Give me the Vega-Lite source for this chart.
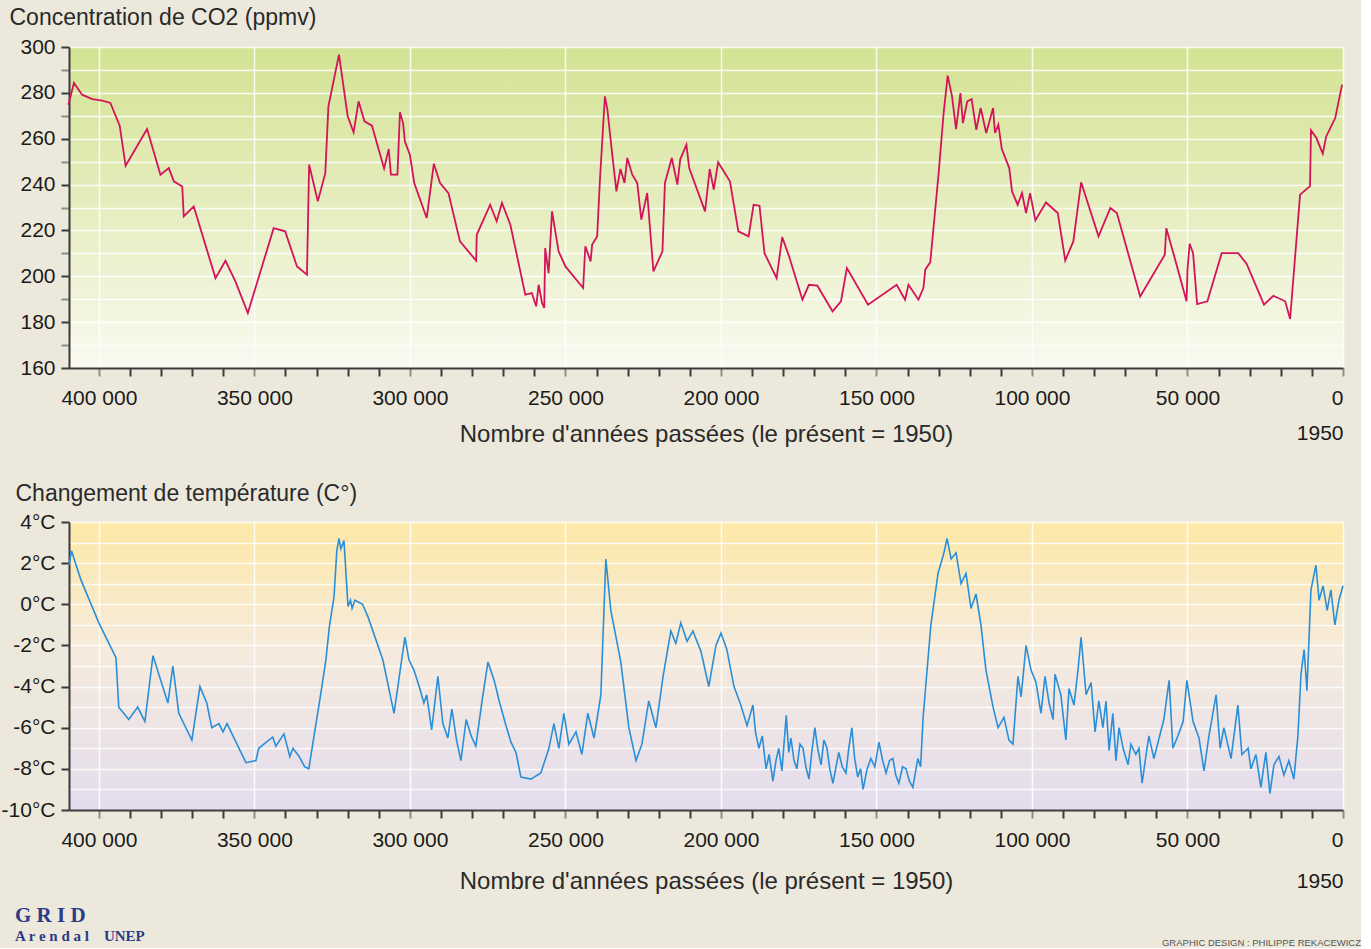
{
  "$schema": "https://vega.github.io/schema/vega-lite/v6.json",
  "background": "#ECE9DC",
  "padding": {"left": 1, "top": 6, "right": 0, "bottom": 0},
  "bounds": "flush",
  "spacing": 154,
  "config": {"font": "Liberation Sans", "view": {"stroke": null}},
  "datasets": {
    "co2": [
      {"years": 409800, "ppmv": 274.8}, {"years": 408000, "ppmv": 284.3}, {"years": 405400, "ppmv": 279.2}, {"years": 402100, "ppmv": 277.3}, {"years": 398900, "ppmv": 276.6}, {"years": 396300, "ppmv": 275.6}, {"years": 393300, "ppmv": 265.7}, {"years": 391400, "ppmv": 248.2}, {"years": 384500, "ppmv": 264.2}, {"years": 380200, "ppmv": 244.3}, {"years": 377500, "ppmv": 247.2}, {"years": 375900, "ppmv": 241.4}, {"years": 373200, "ppmv": 239.2}, {"years": 372700, "ppmv": 226.1}, {"years": 369500, "ppmv": 230.5}, {"years": 362500, "ppmv": 199.2}, {"years": 359300, "ppmv": 206.8}, {"years": 356100, "ppmv": 197.8}, {"years": 352100, "ppmv": 184.0}, {"years": 343800, "ppmv": 221.0}, {"years": 340100, "ppmv": 219.6}, {"years": 336300, "ppmv": 204.3}, {"years": 333100, "ppmv": 200.7}, {"years": 332400, "ppmv": 248.7}, {"years": 329600, "ppmv": 232.7}, {"years": 327200, "ppmv": 245.0}, {"years": 326200, "ppmv": 274.1}, {"years": 322800, "ppmv": 296.7}, {"years": 320000, "ppmv": 269.8}, {"years": 318100, "ppmv": 262.8}, {"years": 316500, "ppmv": 276.3}, {"years": 314600, "ppmv": 267.6}, {"years": 312200, "ppmv": 265.7}, {"years": 308300, "ppmv": 247.0}, {"years": 306800, "ppmv": 255.5}, {"years": 306100, "ppmv": 244.3}, {"years": 304000, "ppmv": 244.3}, {"years": 303200, "ppmv": 271.5}, {"years": 302200, "ppmv": 266.8}, {"years": 301600, "ppmv": 258.8}, {"years": 300000, "ppmv": 253.0}, {"years": 298600, "ppmv": 240.7}, {"years": 294600, "ppmv": 225.4}, {"years": 292300, "ppmv": 249.1}, {"years": 290300, "ppmv": 240.7}, {"years": 287600, "ppmv": 236.3}, {"years": 283900, "ppmv": 215.2}, {"years": 278700, "ppmv": 206.8}, {"years": 278500, "ppmv": 218.1}, {"years": 274200, "ppmv": 231.2}, {"years": 272100, "ppmv": 224.0}, {"years": 270400, "ppmv": 232.0}, {"years": 267700, "ppmv": 222.5}, {"years": 262900, "ppmv": 192.0}, {"years": 260800, "ppmv": 192.7}, {"years": 259400, "ppmv": 186.9}, {"years": 258600, "ppmv": 196.3}, {"years": 257500, "ppmv": 188.3}, {"years": 256800, "ppmv": 186.2}, {"years": 256500, "ppmv": 212.3}, {"years": 255400, "ppmv": 201.4}, {"years": 254300, "ppmv": 228.3}, {"years": 252200, "ppmv": 210.9}, {"years": 250000, "ppmv": 204.3}, {"years": 244300, "ppmv": 194.9}, {"years": 243600, "ppmv": 213.1}, {"years": 241900, "ppmv": 206.5}, {"years": 241400, "ppmv": 213.8}, {"years": 239800, "ppmv": 217.4}, {"years": 238900, "ppmv": 242.1}, {"years": 237300, "ppmv": 278.5}, {"years": 236500, "ppmv": 272.7}, {"years": 235000, "ppmv": 253.8}, {"years": 233600, "ppmv": 237.0}, {"years": 232300, "ppmv": 246.8}, {"years": 231000, "ppmv": 240.7}, {"years": 230100, "ppmv": 251.6}, {"years": 228500, "ppmv": 244.3}, {"years": 226900, "ppmv": 240.7}, {"years": 225600, "ppmv": 224.7}, {"years": 223700, "ppmv": 236.3}, {"years": 221700, "ppmv": 202.1}, {"years": 218800, "ppmv": 210.9}, {"years": 218000, "ppmv": 240.7}, {"years": 215800, "ppmv": 251.6}, {"years": 214000, "ppmv": 240.0}, {"years": 213100, "ppmv": 250.9}, {"years": 211100, "ppmv": 257.4}, {"years": 210200, "ppmv": 247.2}, {"years": 205100, "ppmv": 228.3}, {"years": 203600, "ppmv": 246.8}, {"years": 202300, "ppmv": 237.8}, {"years": 200900, "ppmv": 249.7}, {"years": 197100, "ppmv": 241.4}, {"years": 194400, "ppmv": 219.6}, {"years": 191100, "ppmv": 217.4}, {"years": 189500, "ppmv": 231.2}, {"years": 187600, "ppmv": 230.8}, {"years": 186000, "ppmv": 210.1}, {"years": 182100, "ppmv": 199.2}, {"years": 180300, "ppmv": 217.1}, {"years": 178100, "ppmv": 208.7}, {"years": 173800, "ppmv": 189.8}, {"years": 171700, "ppmv": 196.3}, {"years": 169000, "ppmv": 195.9}, {"years": 164100, "ppmv": 184.7}, {"years": 161400, "ppmv": 189.1}, {"years": 159500, "ppmv": 203.6}, {"years": 152700, "ppmv": 187.6}, {"years": 143500, "ppmv": 196.3}, {"years": 140800, "ppmv": 189.8}, {"years": 139700, "ppmv": 196.3}, {"years": 136500, "ppmv": 189.8}, {"years": 134900, "ppmv": 194.9}, {"years": 134300, "ppmv": 202.9}, {"years": 132700, "ppmv": 206.1}, {"years": 130000, "ppmv": 245.0}, {"years": 128400, "ppmv": 271.2}, {"years": 127100, "ppmv": 287.5}, {"years": 125700, "ppmv": 278.5}, {"years": 124400, "ppmv": 264.2}, {"years": 123000, "ppmv": 279.9}, {"years": 122200, "ppmv": 266.8}, {"years": 120800, "ppmv": 276.3}, {"years": 119400, "ppmv": 277.3}, {"years": 117900, "ppmv": 263.9}, {"years": 116500, "ppmv": 273.4}, {"years": 114700, "ppmv": 262.5}, {"years": 112500, "ppmv": 273.4}, {"years": 111900, "ppmv": 262.5}, {"years": 110800, "ppmv": 266.1}, {"years": 109700, "ppmv": 255.5}, {"years": 107300, "ppmv": 247.2}, {"years": 106400, "ppmv": 237.0}, {"years": 104600, "ppmv": 231.2}, {"years": 103200, "ppmv": 236.3}, {"years": 101900, "ppmv": 227.6}, {"years": 100600, "ppmv": 236.3}, {"years": 98900, "ppmv": 224.4}, {"years": 95500, "ppmv": 232.2}, {"years": 91700, "ppmv": 227.6}, {"years": 89300, "ppmv": 206.9}, {"years": 86700, "ppmv": 215.2}, {"years": 84200, "ppmv": 241.0}, {"years": 78600, "ppmv": 217.4}, {"years": 74800, "ppmv": 229.8}, {"years": 72700, "ppmv": 227.6}, {"years": 65200, "ppmv": 191.2}, {"years": 57300, "ppmv": 209.4}, {"years": 56800, "ppmv": 221.0}, {"years": 53800, "ppmv": 206.5}, {"years": 50300, "ppmv": 189.1}, {"years": 50000, "ppmv": 202.9}, {"years": 49300, "ppmv": 214.2}, {"years": 48200, "ppmv": 210.1}, {"years": 46900, "ppmv": 187.9}, {"years": 43600, "ppmv": 189.1}, {"years": 39000, "ppmv": 210.1}, {"years": 33700, "ppmv": 210.1}, {"years": 31000, "ppmv": 205.5}, {"years": 25400, "ppmv": 187.6}, {"years": 22400, "ppmv": 191.5}, {"years": 18600, "ppmv": 189.1}, {"years": 17000, "ppmv": 181.4}, {"years": 13800, "ppmv": 235.6}, {"years": 10600, "ppmv": 239.3}, {"years": 10300, "ppmv": 263.7}, {"years": 8600, "ppmv": 260.4}, {"years": 6500, "ppmv": 253.5}, {"years": 5400, "ppmv": 261.0}, {"years": 2500, "ppmv": 269.0}, {"years": 300, "ppmv": 283.6}
    ],
    "temp": [
      {"years": 409600, "deg": 1.9}, {"years": 408800, "deg": 2.6}, {"years": 405800, "deg": 1.2}, {"years": 400000, "deg": -0.9}, {"years": 394500, "deg": -2.6}, {"years": 393600, "deg": -5.0}, {"years": 390400, "deg": -5.6}, {"years": 387500, "deg": -5.0}, {"years": 385200, "deg": -5.7}, {"years": 382600, "deg": -2.5}, {"years": 377800, "deg": -4.8}, {"years": 376200, "deg": -3.0}, {"years": 374300, "deg": -5.3}, {"years": 370100, "deg": -6.6}, {"years": 367500, "deg": -4.0}, {"years": 365300, "deg": -4.8}, {"years": 363700, "deg": -6.0}, {"years": 361400, "deg": -5.8}, {"years": 360100, "deg": -6.2}, {"years": 358800, "deg": -5.8}, {"years": 352700, "deg": -7.7}, {"years": 349500, "deg": -7.6}, {"years": 348600, "deg": -7.0}, {"years": 344100, "deg": -6.45}, {"years": 343100, "deg": -6.9}, {"years": 340500, "deg": -6.3}, {"years": 338600, "deg": -7.4}, {"years": 337600, "deg": -7.0}, {"years": 335600, "deg": -7.4}, {"years": 333800, "deg": -7.9}, {"years": 332500, "deg": -8.0}, {"years": 328600, "deg": -4.3}, {"years": 327000, "deg": -2.7}, {"years": 325900, "deg": -1.1}, {"years": 324400, "deg": 0.35}, {"years": 323500, "deg": 2.6}, {"years": 322800, "deg": 3.2}, {"years": 322200, "deg": 2.7}, {"years": 321200, "deg": 3.1}, {"years": 319900, "deg": -0.1}, {"years": 319100, "deg": 0.2}, {"years": 318600, "deg": -0.2}, {"years": 317700, "deg": 0.2}, {"years": 315200, "deg": 0.0}, {"years": 313500, "deg": -0.6}, {"years": 308700, "deg": -2.7}, {"years": 305100, "deg": -5.3}, {"years": 301600, "deg": -1.6}, {"years": 300300, "deg": -2.7}, {"years": 298700, "deg": -3.2}, {"years": 297000, "deg": -4.0}, {"years": 295500, "deg": -4.8}, {"years": 294600, "deg": -4.4}, {"years": 293000, "deg": -6.1}, {"years": 291000, "deg": -3.5}, {"years": 289400, "deg": -5.8}, {"years": 287800, "deg": -6.5}, {"years": 286500, "deg": -5.1}, {"years": 285000, "deg": -6.6}, {"years": 283600, "deg": -7.6}, {"years": 281900, "deg": -5.6}, {"years": 280300, "deg": -6.4}, {"years": 278800, "deg": -6.9}, {"years": 276800, "deg": -4.7}, {"years": 274900, "deg": -2.8}, {"years": 272900, "deg": -3.7}, {"years": 271300, "deg": -4.7}, {"years": 269100, "deg": -5.9}, {"years": 267500, "deg": -6.7}, {"years": 265900, "deg": -7.2}, {"years": 264300, "deg": -8.4}, {"years": 261100, "deg": -8.5}, {"years": 257900, "deg": -8.2}, {"years": 255300, "deg": -7.0}, {"years": 253700, "deg": -5.8}, {"years": 252100, "deg": -7.0}, {"years": 250500, "deg": -5.3}, {"years": 248900, "deg": -6.8}, {"years": 246600, "deg": -6.2}, {"years": 244700, "deg": -7.3}, {"years": 242800, "deg": -5.3}, {"years": 240800, "deg": -6.5}, {"years": 238600, "deg": -4.4}, {"years": 237000, "deg": 2.2}, {"years": 235400, "deg": -0.3}, {"years": 232200, "deg": -2.8}, {"years": 229600, "deg": -6.0}, {"years": 227300, "deg": -7.6}, {"years": 225400, "deg": -6.8}, {"years": 223200, "deg": -4.7}, {"years": 220900, "deg": -6.0}, {"years": 218600, "deg": -3.5}, {"years": 216100, "deg": -1.3}, {"years": 214500, "deg": -1.9}, {"years": 212900, "deg": -0.9}, {"years": 210900, "deg": -1.8}, {"years": 209000, "deg": -1.3}, {"years": 206400, "deg": -2.3}, {"years": 203900, "deg": -4.0}, {"years": 201600, "deg": -2.0}, {"years": 200000, "deg": -1.4}, {"years": 198100, "deg": -2.2}, {"years": 195800, "deg": -4.0}, {"years": 193600, "deg": -4.9}, {"years": 191600, "deg": -5.9}, {"years": 189700, "deg": -4.9}, {"years": 188900, "deg": -6.2}, {"years": 187800, "deg": -7.0}, {"years": 186700, "deg": -6.4}, {"years": 185500, "deg": -8.0}, {"years": 184500, "deg": -7.3}, {"years": 183300, "deg": -8.6}, {"years": 182300, "deg": -7.6}, {"years": 181400, "deg": -7.0}, {"years": 180400, "deg": -8.1}, {"years": 179000, "deg": -5.4}, {"years": 178200, "deg": -7.2}, {"years": 177500, "deg": -6.5}, {"years": 176500, "deg": -7.6}, {"years": 175600, "deg": -8.0}, {"years": 174600, "deg": -6.8}, {"years": 173600, "deg": -7.0}, {"years": 172700, "deg": -7.9}, {"years": 171700, "deg": -8.5}, {"years": 170800, "deg": -7.2}, {"years": 169800, "deg": -6.0}, {"years": 168800, "deg": -7.1}, {"years": 167800, "deg": -7.8}, {"years": 166900, "deg": -6.6}, {"years": 165900, "deg": -7.0}, {"years": 165000, "deg": -8.0}, {"years": 164000, "deg": -8.7}, {"years": 163000, "deg": -7.9}, {"years": 162100, "deg": -7.2}, {"years": 161000, "deg": -7.9}, {"years": 159800, "deg": -8.2}, {"years": 158900, "deg": -7.0}, {"years": 157900, "deg": -6.0}, {"years": 157000, "deg": -7.5}, {"years": 156000, "deg": -8.4}, {"years": 155100, "deg": -8.0}, {"years": 154300, "deg": -9.0}, {"years": 153000, "deg": -8.0}, {"years": 151800, "deg": -7.5}, {"years": 150500, "deg": -7.9}, {"years": 149200, "deg": -6.7}, {"years": 148000, "deg": -7.6}, {"years": 146900, "deg": -8.2}, {"years": 145800, "deg": -7.6}, {"years": 144700, "deg": -7.5}, {"years": 143800, "deg": -8.3}, {"years": 142800, "deg": -8.7}, {"years": 141600, "deg": -7.9}, {"years": 140500, "deg": -8.0}, {"years": 139400, "deg": -8.6}, {"years": 138300, "deg": -8.9}, {"years": 137500, "deg": -8.2}, {"years": 136700, "deg": -7.5}, {"years": 135800, "deg": -7.9}, {"years": 135000, "deg": -5.5}, {"years": 132500, "deg": -1.0}, {"years": 130200, "deg": 1.5}, {"years": 128300, "deg": 2.5}, {"years": 127300, "deg": 3.2}, {"years": 126000, "deg": 2.2}, {"years": 124400, "deg": 2.5}, {"years": 122800, "deg": 1.0}, {"years": 121200, "deg": 1.5}, {"years": 119600, "deg": -0.2}, {"years": 118000, "deg": 0.5}, {"years": 116400, "deg": -1.0}, {"years": 114800, "deg": -3.2}, {"years": 112500, "deg": -5.0}, {"years": 110900, "deg": -6.0}, {"years": 109000, "deg": -5.5}, {"years": 107400, "deg": -6.6}, {"years": 106100, "deg": -6.8}, {"years": 104500, "deg": -3.5}, {"years": 103500, "deg": -4.5}, {"years": 101900, "deg": -2.0}, {"years": 100300, "deg": -3.2}, {"years": 98700, "deg": -3.8}, {"years": 97100, "deg": -5.3}, {"years": 95800, "deg": -3.5}, {"years": 94500, "deg": -4.8}, {"years": 93200, "deg": -5.6}, {"years": 92600, "deg": -3.4}, {"years": 90700, "deg": -4.4}, {"years": 89100, "deg": -6.6}, {"years": 88100, "deg": -4.1}, {"years": 86500, "deg": -4.9}, {"years": 85200, "deg": -3.2}, {"years": 84200, "deg": -1.6}, {"years": 82600, "deg": -4.4}, {"years": 81000, "deg": -3.8}, {"years": 79700, "deg": -6.2}, {"years": 78500, "deg": -4.7}, {"years": 77200, "deg": -6.0}, {"years": 76200, "deg": -4.7}, {"years": 75200, "deg": -7.1}, {"years": 74000, "deg": -5.3}, {"years": 73000, "deg": -7.6}, {"years": 72000, "deg": -6.0}, {"years": 70700, "deg": -7.0}, {"years": 69100, "deg": -7.8}, {"years": 68200, "deg": -6.8}, {"years": 66600, "deg": -7.3}, {"years": 65600, "deg": -7.0}, {"years": 64600, "deg": -8.7}, {"years": 63300, "deg": -7.3}, {"years": 62400, "deg": -6.4}, {"years": 60800, "deg": -7.5}, {"years": 57600, "deg": -5.6}, {"years": 55900, "deg": -3.7}, {"years": 54700, "deg": -7.0}, {"years": 53100, "deg": -6.4}, {"years": 51400, "deg": -5.7}, {"years": 50200, "deg": -3.7}, {"years": 48200, "deg": -5.7}, {"years": 46300, "deg": -6.5}, {"years": 44700, "deg": -8.1}, {"years": 43100, "deg": -6.4}, {"years": 40800, "deg": -4.4}, {"years": 39500, "deg": -7.0}, {"years": 38300, "deg": -6.0}, {"years": 36000, "deg": -7.5}, {"years": 33800, "deg": -4.9}, {"years": 32500, "deg": -7.3}, {"years": 30500, "deg": -7.0}, {"years": 29600, "deg": -8.0}, {"years": 28000, "deg": -7.3}, {"years": 26400, "deg": -8.9}, {"years": 24800, "deg": -7.2}, {"years": 23500, "deg": -9.2}, {"years": 22200, "deg": -7.8}, {"years": 20600, "deg": -7.4}, {"years": 19000, "deg": -8.3}, {"years": 17400, "deg": -7.6}, {"years": 15800, "deg": -8.5}, {"years": 14500, "deg": -6.4}, {"years": 13500, "deg": -3.4}, {"years": 12500, "deg": -2.2}, {"years": 11600, "deg": -4.2}, {"years": 10300, "deg": 0.7}, {"years": 8700, "deg": 1.9}, {"years": 7700, "deg": 0.2}, {"years": 6400, "deg": 0.9}, {"years": 5100, "deg": -0.3}, {"years": 3900, "deg": 0.7}, {"years": 2600, "deg": -1.0}, {"years": 1300, "deg": 0.2}, {"years": 0, "deg": 0.9}
    ]
  },
  "vconcat": [
    {
      "width": 1274,
      "height": 321,
      "view": {"stroke": null, "fill": {"gradient": "linear", "x1": 0, "y1": 0, "x2": 0, "y2": 1, "stops": [{"offset": 0, "color": "#D3E393"}, {"offset": 0.5, "color": "#E6EDBF"}, {"offset": 1, "color": "#FAFAF1"}]}},
      "title": {"text": "G R I D", "subtitle": "A r e n d a l\u00a0\u00a0\u00a0\u00a0UNEP", "orient": "bottom", "anchor": "start", "frame": "group", "offset": 459, "dx": -54, "font": "Liberation Serif", "fontWeight": "bold", "fontSize": 21, "color": "#2E3A86", "subtitleFont": "Liberation Serif", "subtitleFontWeight": "bold", "subtitleFontSize": 15, "subtitleColor": "#2E3A86", "subtitlePadding": 3},
      "data": {"name": "co2"},
      "mark": {"type": "line", "color": "#D4145A", "strokeWidth": 1.8},
      "encoding": {
        "x": {
          "field": "years", "type": "quantitative",
          "scale": {"domain": [409600, 0], "nice": false, "zero": false},
          "axis": {
            "values": [0, 10000, 20000, 30000, 40000, 50000, 60000, 70000, 80000, 90000, 100000, 110000, 120000, 130000, 140000, 150000, 160000, 170000, 180000, 190000, 200000, 210000, 220000, 230000, 240000, 250000, 260000, 270000, 280000, 290000, 300000, 310000, 320000, 330000, 340000, 350000, 360000, 370000, 380000, 390000, 400000],
            "labelExpr": "datum.value % 50000 != 0 ? '' : (datum.value == 0 ? ['0', '1950'] : floor(datum.value / 1000) + ' 000')",
            "labelAlign": {"condition": {"test": "datum.value == 0", "value": "right"}, "value": "center"},
            "labelFontSize": 21, "labelColor": "#1A1A1A", "labelPadding": 11, "labelLineHeight": 35,
            "labelOverlap": false, "labelBound": false, "labelFlush": false,
            "tickSize": 8, "tickWidth": 2,
            "tickColor": {"condition": {"test": "datum.value % 50000 == 0", "value": "#8E8E86"}, "value": "#3A3A3A"},
            "domainColor": "#3A3A3A", "domainWidth": 2,
            "grid": true, "gridColor": "#FFFFFF", "gridWidth": 1.5,
            "gridOpacity": {"condition": {"test": "datum.value % 50000 == 0", "value": 0.85}, "value": 0},
            "title": "Nombre d'années passées (le présent = 1950)",
            "titleFontSize": 24, "titleFontWeight": "normal", "titleColor": "#2A2A2A", "titlePadding": -21
          }
        },
        "y": {
          "field": "ppmv", "type": "quantitative",
          "scale": {"domain": [160, 300], "nice": false, "zero": false},
          "axis": {
            "values": [160, 170, 180, 190, 200, 210, 220, 230, 240, 250, 260, 270, 280, 290, 300],
            "labelExpr": "datum.value % 20 == 0 ? datum.value : ''",
            "labelFontSize": 21, "labelColor": "#1A1A1A", "labelPadding": 6,
            "tickSize": 8, "tickWidth": 2,
            "tickColor": {"condition": {"test": "datum.value % 20 == 0", "value": "#3A3A3A"}, "value": "#8E8E86"},
            "domainColor": "#3A3A3A", "domainWidth": 2,
            "grid": true, "gridColor": "#FFFFFF", "gridWidth": 1.5, "gridOpacity": 0.85,
            "title": "Concentration de CO2 (ppmv)",
            "titleAngle": 0, "titleAlign": "left", "titleBaseline": "top", "titleX": -60, "titleY": -41,
            "titleFontSize": 23, "titleFontWeight": "normal", "titleColor": "#2A2A2A"
          }
        }
      }
    },
    {
      "width": 1274,
      "height": 288,
      "view": {"stroke": null, "fill": {"gradient": "linear", "x1": 0, "y1": 0, "x2": 0, "y2": 1, "stops": [{"offset": 0, "color": "#FDE8A6"}, {"offset": 0.45, "color": "#F6EBDD"}, {"offset": 1, "color": "#E3DCEE"}]}},
      "title": {"text": "GRAPHIC DESIGN : PHILIPPE REKACEWICZ", "orient": "bottom", "anchor": "end", "frame": "group", "offset": 45, "dx": 18, "fontSize": 9.5, "fontWeight": "normal", "color": "#555555"},
      "data": {"name": "temp"},
      "mark": {"type": "line", "color": "#2A8FD8", "strokeWidth": 1.6},
      "encoding": {
        "x": {
          "field": "years", "type": "quantitative",
          "scale": {"domain": [409600, 0], "nice": false, "zero": false},
          "axis": {
            "values": [0, 10000, 20000, 30000, 40000, 50000, 60000, 70000, 80000, 90000, 100000, 110000, 120000, 130000, 140000, 150000, 160000, 170000, 180000, 190000, 200000, 210000, 220000, 230000, 240000, 250000, 260000, 270000, 280000, 290000, 300000, 310000, 320000, 330000, 340000, 350000, 360000, 370000, 380000, 390000, 400000],
            "labelExpr": "datum.value % 50000 != 0 ? '' : (datum.value == 0 ? ['0', '1950'] : floor(datum.value / 1000) + ' 000')",
            "labelAlign": {"condition": {"test": "datum.value == 0", "value": "right"}, "value": "center"},
            "labelFontSize": 21, "labelColor": "#1A1A1A", "labelPadding": 11, "labelLineHeight": 41,
            "labelOverlap": false, "labelBound": false, "labelFlush": false,
            "tickSize": 8, "tickWidth": 2,
            "tickColor": {"condition": {"test": "datum.value % 50000 == 0", "value": "#8E8E86"}, "value": "#3A3A3A"},
            "domainColor": "#3A3A3A", "domainWidth": 2,
            "grid": true, "gridColor": "#FFFFFF", "gridWidth": 1.5,
            "gridOpacity": {"condition": {"test": "datum.value % 50000 == 0", "value": 0.85}, "value": 0},
            "title": "Nombre d'années passées (le présent = 1950)",
            "titleFontSize": 24, "titleFontWeight": "normal", "titleColor": "#2A2A2A", "titlePadding": -22
          }
        },
        "y": {
          "field": "deg", "type": "quantitative",
          "scale": {"domain": [-10, 4], "nice": false, "zero": false},
          "axis": {
            "values": [-10, -9, -8, -7, -6, -5, -4, -3, -2, -1, 0, 1, 2, 3, 4],
            "labelExpr": "datum.value % 2 == 0 ? datum.value + '°C' : ''",
            "labelFontSize": 21, "labelColor": "#1A1A1A", "labelPadding": 6,
            "tickSize": 8, "tickWidth": 2,
            "tickColor": "#3A3A3A",
            "tickOpacity": {"condition": {"test": "datum.value % 2 == 0", "value": 1}, "value": 0},
            "domainColor": "#3A3A3A", "domainWidth": 2,
            "grid": true, "gridColor": "#FFFFFF", "gridWidth": 1.5, "gridOpacity": 0.85,
            "title": "Changement de température (C°)",
            "titleAngle": 0, "titleAlign": "left", "titleBaseline": "top", "titleX": -54, "titleY": -40,
            "titleFontSize": 23, "titleFontWeight": "normal", "titleColor": "#2A2A2A"
          }
        }
      }
    }
  ]
}
